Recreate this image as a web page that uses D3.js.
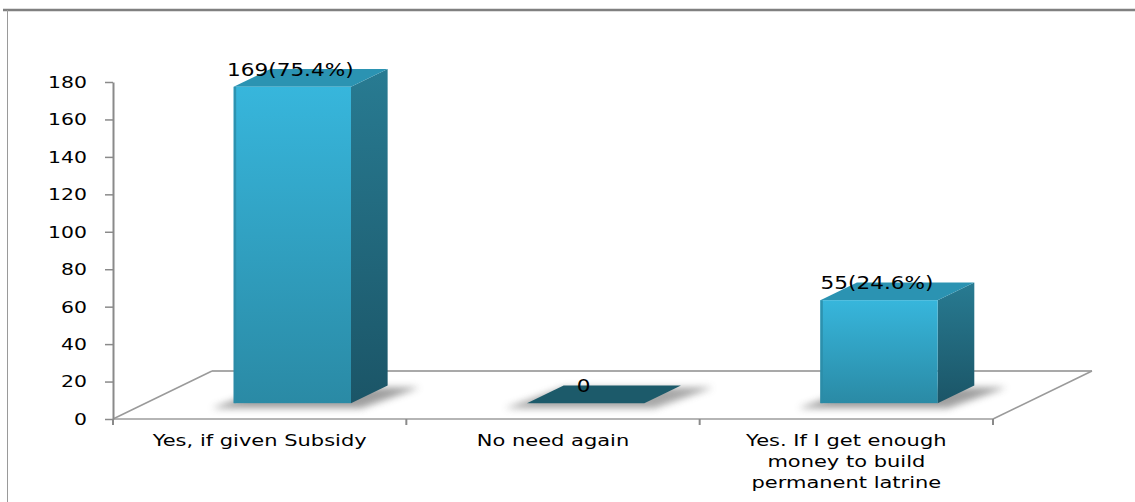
<!DOCTYPE html>
<html>
<head>
<meta charset="utf-8">
<script src="https://cdn.jsdelivr.net/npm/d3@7"></script>
<style>
  html, body { margin: 0; padding: 0; background: #ffffff; }
  svg { display: block; }
  text { font-family: "DejaVu Sans", Verdana, sans-serif; fill: #000; }
</style>
</head>
<body>
<svg id="chart" width="1135" height="502"></svg>
<script>
// Responses to whether a permanent latrine would be built
const categories = [
  ["Yes, if given Subsidy"],
  ["No need again"],
  ["Yes. If  I get enough", "money to build", "permanent latrine"]
];
const counts = [169, 0, 55];
const valueLabels = ["169(75.4%)", "0", "55(24.6%)"];
const tickValues = [0, 20, 40, 60, 80, 100, 120, 140, 160, 180];

const svg = d3.select("#chart");
const W = 1135, H = 502;

// Plot frame
const left = 113, right = 993, baseY = 419, topY = 82;
const depth = { dx: 99, dy: -48 };       // floor depth vector
const barFront = 0.33, barBack = 0.70;    // bar position within floor depth

const keys = categories.map((c, i) => "c" + i);
const x = d3.scaleBand().domain(keys).range([left, right])
  .paddingInner(0.6).paddingOuter(0.3);
const xCat = d3.scaleBand().domain(keys).range([left, right]);
const y = d3.scaleLinear().domain([0, 180]).range([baseY, topY]);

// Outer frame lines
svg.append("line").attr("x1", 3).attr("x2", W).attr("y1", 10).attr("y2", 10)
  .attr("stroke", "#808080").attr("stroke-width", 2.5);
svg.append("line").attr("x1", 7.5).attr("x2", 7.5).attr("y1", 10).attr("y2", H)
  .attr("stroke", "#9a9a9a").attr("stroke-width", 1);

const defs = svg.append("defs");
const gFront = defs.append("linearGradient").attr("id", "front")
  .attr("x1", 0).attr("y1", 0).attr("x2", 0).attr("y2", 1);
gFront.append("stop").attr("offset", "0%").attr("stop-color", "#37b6dc");
gFront.append("stop").attr("offset", "100%").attr("stop-color", "#2a8aa5");
const gSide = defs.append("linearGradient").attr("id", "side")
  .attr("x1", 0).attr("y1", 0).attr("x2", 0).attr("y2", 1);
gSide.append("stop").attr("offset", "0%").attr("stop-color", "#287b92");
gSide.append("stop").attr("offset", "100%").attr("stop-color", "#1b5567");
defs.append("filter").attr("id", "soft").attr("x", "-30%").attr("y", "-100%")
  .attr("width", "160%").attr("height", "300%")
  .append("feGaussianBlur").attr("stdDeviation", 3.5);

// Floor
const floor = svg.append("g").attr("stroke", "#9a9a9a").attr("stroke-width", 1.5).attr("fill", "none");
floor.append("line").attr("x1", left).attr("y1", baseY).attr("x2", right).attr("y2", baseY)
  .attr("stroke", "#b5b5b5").attr("stroke-width", 2);
floor.append("line").attr("x1", left + depth.dx).attr("y1", baseY + depth.dy)
  .attr("x2", right + depth.dx).attr("y2", baseY + depth.dy).attr("stroke", "#8c8c8c");
floor.append("line").attr("x1", left).attr("y1", baseY)
  .attr("x2", left + depth.dx).attr("y2", baseY + depth.dy);
floor.append("line").attr("x1", right).attr("y1", baseY)
  .attr("x2", right + depth.dx).attr("y2", baseY + depth.dy);

// Category ticks on the floor's front edge
const catTicks = [left].concat(keys.map(k => xCat(k) + xCat.bandwidth()));
svg.append("g").selectAll("line").data(catTicks).join("line")
  .attr("x1", d => d).attr("x2", d => d).attr("y1", baseY).attr("y2", baseY + 6)
  .attr("stroke", "#8a8a8a").attr("stroke-width", 2);

// Value axis
const axis = svg.append("g").attr("transform", `translate(${left},0)`)
  .call(d3.axisLeft(y).tickValues(tickValues).tickSize(8).tickSizeOuter(0));
axis.select(".domain").attr("stroke", "#8a8a8a").attr("stroke-width", 2);
axis.selectAll(".tick line").attr("stroke", "#8a8a8a").attr("stroke-width", 1.5);
axis.selectAll(".tick text")
  .attr("x", 0).attr("dy", "0.36em")
  .attr("transform", "translate(-26,0) scale(1.36,1)")
  .style("font-size", "15px").attr("fill", "#000")
  .style("font-family", '"DejaVu Sans", Verdana, sans-serif');

// Bars
const bars = svg.append("g");
counts.forEach((v, i) => {
  const k = keys[i];
  const w = x.bandwidth();
  const fx = x(k) + depth.dx * barFront, fy = baseY + depth.dy * barFront;
  const bx = depth.dx * (barBack - barFront), by = depth.dy * (barBack - barFront);
  const h = baseY - y(v);
  const top = fy - h;

  // soft shadow on the floor
  bars.append("path")
    .attr("d", `M${fx - 22},${fy + 5} L${fx + w + 10},${fy + 5} L${fx + w + bx + 32},${fy + by + 2} L${fx + bx},${fy + by + 2} Z`)
    .attr("fill", v > 0 ? "#7f7f7f" : "#8a8a8a").attr("opacity", 0.75).attr("filter", "url(#soft)");

  if (v === 0) {
    bars.append("path")
      .attr("d", `M${fx},${fy} L${fx + w},${fy} L${fx + w + bx},${fy + by} L${fx + bx},${fy + by} Z`)
      .attr("fill", "#1c5a6a");
  } else {
    // side face
    bars.append("path")
      .attr("d", `M${fx + w},${fy} L${fx + w + bx},${fy + by} L${fx + w + bx},${top + by} L${fx + w},${top} Z`)
      .attr("fill", "url(#side)");
    // top face
    bars.append("path")
      .attr("d", `M${fx},${top} L${fx + w},${top} L${fx + w + bx},${top + by} L${fx + bx},${top + by} Z`)
      .attr("fill", "#2b93b2");
    // front face
    bars.append("rect")
      .attr("x", fx).attr("y", top).attr("width", w).attr("height", h)
      .attr("fill", "url(#front)");
    bars.append("rect")
      .attr("x", fx).attr("y", top).attr("width", 2.5).attr("height", h)
      .attr("fill", "#2c8ba6").attr("opacity", 0.8);
  }

  // value label
  bars.append("text")
    .attr("transform", `translate(${fx + w / 2 - 2},${top - 11}) scale(1.2,1)`)
    .attr("text-anchor", "middle")
    .style("font-size", "18px")
    .text(valueLabels[i]);
});

// Category labels
const catG = svg.append("g");
categories.forEach((lines, i) => {
  const cx = xCat(keys[i]) + xCat.bandwidth() / 2;
  lines.forEach((ln, j) => {
    catG.append("text")
      .attr("transform", `translate(${cx},${446 + j * 20.8}) scale(1.4,1)`)
      .attr("text-anchor", "middle")
      .style("font-size", "15px")
      .text(ln);
  });
});
</script>
</body>
</html>
